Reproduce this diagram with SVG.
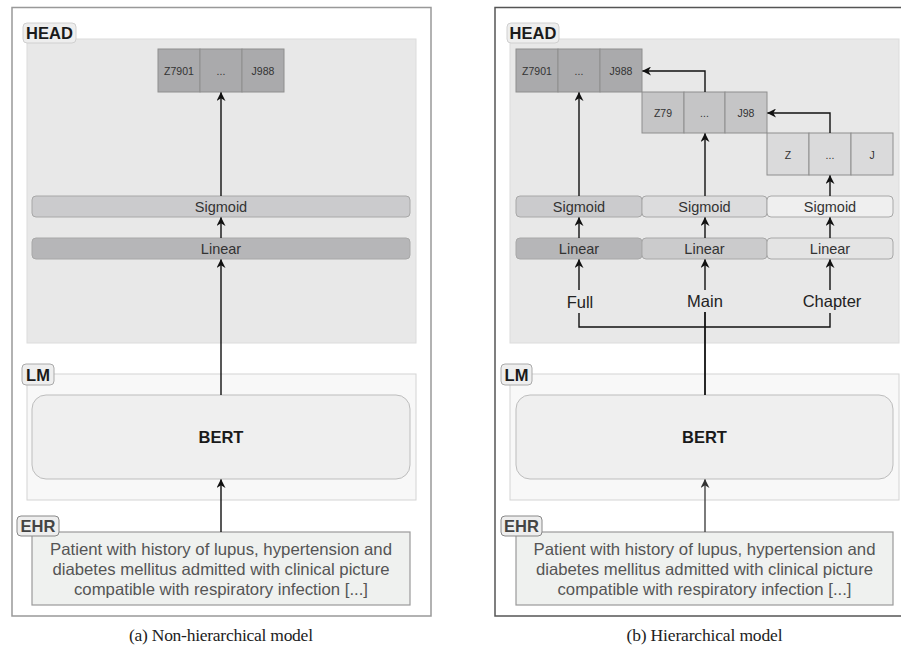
<svg xmlns="http://www.w3.org/2000/svg" width="901" height="646" viewBox="0 0 901 646">
<defs>
<marker id="ah" viewBox="0 0 10 10" refX="9.5" refY="5" markerWidth="9" markerHeight="9" markerUnits="userSpaceOnUse" orient="auto">
<path d="M0,0 L10,5 L0,10 L3,5 z" fill="#111"/>
</marker>
<marker id="ahg" viewBox="0 0 10 10" refX="9.5" refY="5" markerWidth="9" markerHeight="9" markerUnits="userSpaceOnUse" orient="auto">
<path d="M0,0 L10,5 L0,10 L3,5 z" fill="#333"/>
</marker>
</defs>
<style>
.t{font-family:"Liberation Sans",Arial,sans-serif;fill:#333;text-anchor:middle}
.lbl{font-family:"Liberation Sans",Arial,sans-serif;font-weight:bold;font-size:16.5px;fill:#1a1a1a;text-anchor:middle}
.bar{font-size:14.5px}
.cell{font-size:10.5px}
.cap{font-family:"Liberation Serif","Times New Roman",serif;font-size:17.5px;fill:#222;text-anchor:middle}
.ehr{font-size:16.5px;fill:#555}
.head{fill:#e8e8e8;stroke:#dcdcdc;stroke-width:1}
.lm{fill:#f8f8f8;stroke:#d4d4d4;stroke-width:1}
.tag{fill:#eeeeee;stroke:#d0d0d0;stroke-width:1}
.bert{fill:#efefef;stroke:#bdbdbd;stroke-width:1}
.ehrbox{fill:#eff1ef;stroke:#9a9a9a;stroke-width:1.2}
.cellbox{stroke:#8e8e8e;stroke-width:1}
.barbox{stroke:#a8a8a8;stroke-width:1}
.c{fill:none;stroke:#111;stroke-width:1.4}
</style>

<!-- ===== Panel (a) ===== -->
<g id="frame-a"><rect x="12" y="7.5" width="419" height="608.5" fill="#fff" stroke="#999" stroke-width="1.5"/></g>
<g id="head-a">
<rect class="head" x="27" y="39" width="389" height="304"/>
<rect class="tag" x="23" y="23" width="53" height="20" rx="4"/>
<text class="lbl" x="49.5" y="39">HEAD</text>
</g>
<g id="out-a">
<rect class="cellbox" x="158" y="49" width="42" height="43" fill="#aaaaac"/>
<rect class="cellbox" x="200" y="49" width="42" height="43" fill="#aaaaac"/>
<rect class="cellbox" x="242" y="49" width="42" height="43" fill="#aaaaac"/>
<text class="t cell" x="179" y="74.5">Z7901</text>
<text class="t cell" x="221" y="74.5">...</text>
<text class="t cell" x="263" y="74.5">J988</text>
</g>
<g id="sigmoid-a"><rect class="barbox" x="32" y="196" width="378" height="21" rx="4" fill="#cbcbcd"/><text class="t bar" x="221" y="212">Sigmoid</text></g>
<g id="linear-a"><rect class="barbox" x="32" y="238" width="378" height="21" rx="4" fill="#b6b6b8"/><text class="t bar" x="221" y="254">Linear</text></g>
<g id="lm-a">
<rect class="lm" x="27" y="374" width="389" height="126"/>
<rect class="tag" x="22" y="364" width="32" height="21" rx="4" style="stroke:#aaa"/>
<text class="lbl" x="38" y="381">LM</text>
</g>
<g id="bert-a"><rect class="bert" x="32" y="395" width="378" height="84" rx="14"/><text class="lbl" x="221" y="443">BERT</text></g>
<g id="ehr-a">
<rect class="ehrbox" x="32" y="532" width="378" height="73"/>
<rect class="tag" x="17" y="516" width="42" height="20" rx="4" style="stroke:#888"/>
<text class="lbl" x="38" y="532" style="fill:#444">EHR</text>
<text class="t ehr" x="221" y="555" textLength="342" lengthAdjust="spacingAndGlyphs">Patient with history of lupus, hypertension and</text>
<text class="t ehr" x="221" y="575" textLength="337" lengthAdjust="spacingAndGlyphs">diabetes mellitus admitted with clinical picture</text>
<text class="t ehr" x="221" y="595" textLength="294" lengthAdjust="spacingAndGlyphs">compatible with respiratory infection [...]</text>
</g>
<g id="connectors-a">
<line class="c" x1="221" y1="532" x2="221" y2="479.5" marker-end="url(#ah)"/>
<line class="c" x1="221" y1="395" x2="221" y2="259.5" marker-end="url(#ah)"/>
<line class="c" x1="221" y1="238" x2="221" y2="217.5" marker-end="url(#ah)"/>
<line class="c" x1="221" y1="196" x2="221" y2="92.5" marker-end="url(#ah)"/>
</g>
<text class="cap" x="221" y="641" textLength="184" lengthAdjust="spacing">(a) Non-hierarchical model</text>

<!-- ===== Panel (b) ===== -->
<g id="frame-b"><rect x="495" y="7.5" width="420" height="608.5" fill="#fff" stroke="#555" stroke-width="1.5"/></g>
<g id="head-b">
<rect class="head" x="510" y="39" width="389" height="304"/>
<rect class="tag" x="507" y="23" width="52" height="20" rx="4"/>
<text class="lbl" x="533" y="39">HEAD</text>
</g>
<g id="out-full">
<rect class="cellbox" x="516" y="49" width="42" height="43" fill="#aaaaac"/>
<rect class="cellbox" x="558" y="49" width="42" height="43" fill="#aaaaac"/>
<rect class="cellbox" x="600" y="49" width="42" height="43" fill="#aaaaac"/>
<text class="t cell" x="537" y="74.5">Z7901</text>
<text class="t cell" x="579" y="74.5">...</text>
<text class="t cell" x="621" y="74.5">J988</text>
</g>
<g id="out-main">
<rect class="cellbox" x="642" y="92" width="42" height="41" fill="#c5c5c6"/>
<rect class="cellbox" x="684" y="92" width="41" height="41" fill="#c5c5c6"/>
<rect class="cellbox" x="725" y="92" width="42" height="41" fill="#c5c5c6"/>
<text class="t cell" x="663" y="116.5">Z79</text>
<text class="t cell" x="704.5" y="116.5">...</text>
<text class="t cell" x="746" y="116.5">J98</text>
</g>
<g id="out-chapter">
<rect class="cellbox" x="767" y="133" width="42" height="42" fill="#dadadb"/>
<rect class="cellbox" x="809" y="133" width="42" height="42" fill="#dadadb"/>
<rect class="cellbox" x="851" y="133" width="42" height="42" fill="#dadadb"/>
<text class="t cell" x="788" y="158.5">Z</text>
<text class="t cell" x="830" y="158.5">...</text>
<text class="t cell" x="872" y="158.5">J</text>
</g>
<g id="sigmoid-full"><rect class="barbox" x="516" y="196" width="126" height="21" rx="4" fill="#cbcbcd"/><text class="t bar" x="579" y="212">Sigmoid</text></g>
<g id="sigmoid-main"><rect class="barbox" x="642" y="196" width="125" height="21" rx="4" fill="#dcdcdd"/><text class="t bar" x="704.5" y="212">Sigmoid</text></g>
<g id="sigmoid-chapter"><rect class="barbox" x="767" y="196" width="126" height="21" rx="4" fill="#efefef"/><text class="t bar" x="830" y="212">Sigmoid</text></g>
<g id="linear-full"><rect class="barbox" x="516" y="238" width="126" height="21" rx="4" fill="#b6b6b8"/><text class="t bar" x="579" y="254">Linear</text></g>
<g id="linear-main"><rect class="barbox" x="642" y="238" width="125" height="21" rx="4" fill="#cbcbcc"/><text class="t bar" x="704.5" y="254">Linear</text></g>
<g id="linear-chapter"><rect class="barbox" x="767" y="238" width="126" height="21" rx="4" fill="#e4e4e4"/><text class="t bar" x="830" y="254">Linear</text></g>
<g id="lab-full"><text class="t" x="580" y="308" style="font-size:16.5px;fill:#222">Full</text></g>
<g id="lab-main"><text class="t" x="705" y="307" style="font-size:16.5px;fill:#222">Main</text></g>
<g id="lab-chapter"><text class="t" x="832" y="307" style="font-size:16.5px;fill:#222">Chapter</text></g>
<g id="lm-b">
<rect class="lm" x="510" y="374" width="389" height="126"/>
<rect class="tag" x="501" y="364" width="31" height="21" rx="4" style="stroke:#aaa"/>
<text class="lbl" x="516.5" y="381">LM</text>
</g>
<g id="bert-b"><rect class="bert" x="516" y="395" width="377" height="84" rx="14"/><text class="lbl" x="704.5" y="443">BERT</text></g>
<g id="ehr-b">
<rect class="ehrbox" x="516" y="532" width="377" height="73"/>
<rect class="tag" x="501" y="516" width="41" height="20" rx="4" style="stroke:#888"/>
<text class="lbl" x="521.5" y="532" style="fill:#444">EHR</text>
<text class="t ehr" x="704.5" y="555" textLength="342" lengthAdjust="spacingAndGlyphs">Patient with history of lupus, hypertension and</text>
<text class="t ehr" x="704.5" y="575" textLength="337" lengthAdjust="spacingAndGlyphs">diabetes mellitus admitted with clinical picture</text>
<text class="t ehr" x="704.5" y="595" textLength="294" lengthAdjust="spacingAndGlyphs">compatible with respiratory infection [...]</text>
</g>
<g id="connectors-b">
<line class="c" x1="705" y1="532" x2="705" y2="479.5" marker-end="url(#ahg)" style="stroke:#444"/>
<line class="c" x1="705" y1="395" x2="705" y2="312" style="stroke-width:1.8"/>
<polyline class="c" points="579,313 579,327 830,327 830,313"/>
<line class="c" x1="579" y1="290" x2="579" y2="259.5" marker-end="url(#ah)"/>
<line class="c" x1="705" y1="290" x2="705" y2="259.5" marker-end="url(#ah)"/>
<line class="c" x1="830" y1="290" x2="830" y2="259.5" marker-end="url(#ah)"/>
<line class="c" x1="579" y1="238" x2="579" y2="217.5" marker-end="url(#ah)"/>
<line class="c" x1="705" y1="238" x2="705" y2="217.5" marker-end="url(#ah)"/>
<line class="c" x1="830" y1="238" x2="830" y2="217.5" marker-end="url(#ah)"/>
<line class="c" x1="579" y1="196" x2="579" y2="92.5" marker-end="url(#ah)"/>
<line class="c" x1="705" y1="196" x2="705" y2="133.5" marker-end="url(#ah)"/>
<line class="c" x1="830" y1="196" x2="830" y2="175.5" marker-end="url(#ah)"/>
<polyline class="c" points="705,92 705,71 642.5,71" marker-end="url(#ah)"/>
<polyline class="c" points="830,133 830,113 767.5,113" marker-end="url(#ah)"/>
</g>
<text class="cap" x="704.5" y="641" textLength="156" lengthAdjust="spacing">(b) Hierarchical model</text>
</svg>
